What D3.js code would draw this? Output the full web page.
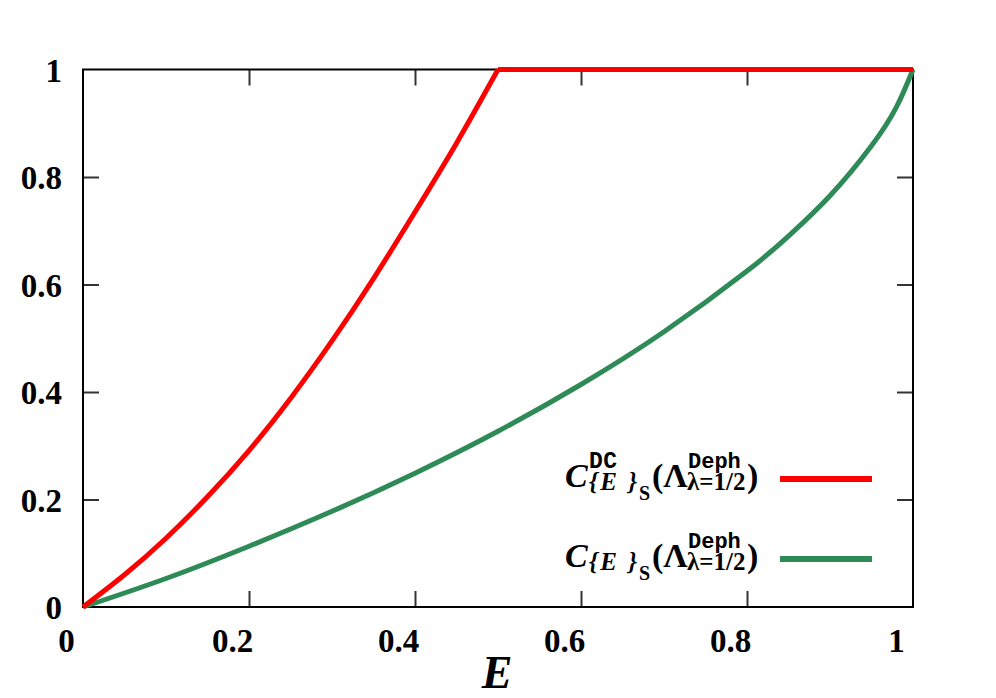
<!DOCTYPE html>
<html>
<head>
<meta charset="utf-8">
<script src="https://cdn.jsdelivr.net/npm/d3@7"></script>
<style>
  body { margin: 0; background: #fff; }
  svg { display: block; }
  .tick text { font-family: "Liberation Serif", "Times New Roman", serif; font-weight: bold; font-size: 33px; fill: #000; }
  .tick line { stroke: #333; stroke-width: 2; }
</style>
</head>
<body>
<div id="chart"></div>
<script>
// red curve: C^DC, rises until E = 0.5 then saturates at 1
const redE   = [0, 0.05, 0.1, 0.15, 0.2, 0.25, 0.3, 0.35, 0.4, 0.45, 0.5];
const redC   = [0, 0.06, 0.128, 0.205, 0.291, 0.388, 0.495, 0.611, 0.735, 0.863, 1];
const flatE  = [0.5, 1];
const flatC  = [1, 1];
// green curve: C
const greenE = [0, 0.1, 0.2, 0.3, 0.4, 0.5, 0.6, 0.7, 0.8, 0.85, 0.9, 0.95, 0.98, 1];
const greenC = [0, 0.053, 0.113, 0.178, 0.249, 0.327, 0.414, 0.512, 0.625, 0.69, 0.765, 0.858, 0.93, 1];

const xTicks = [0, 0.2, 0.4, 0.6, 0.8, 1];
const yTicks = [0, 0.2, 0.4, 0.6, 0.8, 1];

const W = 996, H = 698;
const margin = {top: 69.5, right: 83, bottom: 91, left: 83};
const width = W - margin.left - margin.right,
      height = H - margin.top - margin.bottom;

const svg = d3.select("#chart").append("svg")
  .attr("width", W).attr("height", H);
const g = svg.append("g")
  .attr("transform", `translate(${margin.left},${margin.top})`);

const x = d3.scaleLinear().domain([0, 1]).range([0, width]);
const y = d3.scaleLinear().domain([0, 1]).range([height, 0]);
const fmt = d => d === 0 ? "0" : d === 1 ? "1" : String(d);

// axes (ticks point inward, mirrored on top/right)
const xb = g.append("g").attr("transform", `translate(0,${height})`)
  .call(d3.axisBottom(x).tickValues(xTicks).tickFormat(fmt).tickSizeInner(-16).tickSizeOuter(0).tickPadding(22));
xb.selectAll("text").attr("dx", -17);
const yl = g.append("g")
  .call(d3.axisLeft(y).tickValues(yTicks).tickFormat(fmt).tickSizeInner(-16).tickSizeOuter(0).tickPadding(21));
yl.selectAll("text").attr("dy", "0.36em");
g.append("g")
  .call(d3.axisTop(x).tickValues(xTicks).tickFormat("").tickSizeInner(-16).tickSizeOuter(0));
g.append("g").attr("transform", `translate(${width},0)`)
  .call(d3.axisRight(y).tickValues(yTicks).tickFormat("").tickSizeInner(-16).tickSizeOuter(0));
g.selectAll(".domain").remove();
g.selectAll(".tick").filter(d => d === 0 || d === 1).select("line").remove();

g.append("rect")
  .attr("width", width).attr("height", height)
  .attr("fill", "none").attr("stroke", "#000").attr("stroke-width", 2);

// curves
const line = d3.line()
  .x(d => x(d[0])).y(d => y(d[1]))
  .curve(d3.curveNatural);

g.append("path")
  .datum(greenE.map((e, i) => [e, greenC[i]]))
  .attr("d", line)
  .attr("fill", "none").attr("stroke", "#2e8b57").attr("stroke-width", 5);

g.append("path")
  .datum(redE.map((e, i) => [e, redC[i]]))
  .attr("d", line)
  .attr("fill", "none").attr("stroke", "#ff0000").attr("stroke-width", 5)
  .attr("stroke-linejoin", "round");
g.append("path")
  .datum(flatE.map((e, i) => [e, flatC[i]]))
  .attr("d", d3.line().x(d => x(d[0])).y(d => y(d[1])))
  .attr("fill", "none").attr("stroke", "#ff0000").attr("stroke-width", 5);

// x label
svg.append("text")
  .attr("x", 497).attr("y", 688)
  .attr("text-anchor", "middle")
  .style("font-family", "Liberation Serif, Times New Roman, serif")
  .style("font-weight", "bold").style("font-style", "italic").style("font-size", "46px")
  .text("E");

// legend
const serif = "Liberation Serif, Times New Roman, serif";
const mono = "Liberation Mono, Courier New, monospace";
function piece(px, py, txt, size, fam, italic, len) {
  const t = svg.append("text")
    .attr("x", px).attr("y", py)
    .style("font-family", fam).style("font-weight", "bold")
    .style("font-style", italic ? "italic" : "normal")
    .style("font-size", size + "px")
    .text(txt);
  if (len) t.attr("textLength", len).attr("lengthAdjust", "spacing");
  return t;
}
const legend = [
  {sup: "DC", color: "#ff0000"},
  {sup: null, color: "#2e8b57"}
];
legend.forEach((d, i) => {
  const b = 487 + i * 80;
  piece(565, b, "C", 34, serif, true);
  if (d.sup) piece(589, b - 19, d.sup, 23, mono, false, 28);
  piece(589, b + 3, "{E }", 25, serif, true, 48);
  piece(639, b + 13, "S", 20, serif, false);
  piece(652, b, "(\u039B", 34, serif, false);
  piece(688, b - 19, "Deph", 22, mono, false);
  piece(687, b + 3, "\u03BB=1/2", 25, serif, false);
  piece(747, b, ")", 34, serif, false);
  svg.append("line")
    .attr("x1", 780).attr("x2", 872)
    .attr("y1", b - 8).attr("y2", b - 8)
    .attr("stroke", d.color).attr("stroke-width", 6);
});
</script>
</body>
</html>
